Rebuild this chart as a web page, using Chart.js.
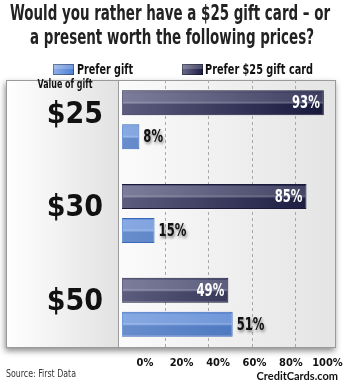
<!DOCTYPE html>
<html>
<head>
<meta charset="utf-8">
<script src="https://cdn.jsdelivr.net/npm/chart.js@4.4.1/dist/chart.umd.min.js"></script>
<style>
  html, body { margin: 0; padding: 0; background: #fff; }
  #wrap { width: 344px; height: 384px; }
</style>
</head>
<body>
<div id="wrap"><canvas id="giftChart" width="344" height="384"></canvas></div>
<script>
// ---------------------------------------- data ------------------------------------------------
const titleLines = ["Would you rather have a $25 gift card \u2013 or", "a present worth the following prices?"];
const categories = ["$25", "$30", "$50"];
const preferCard = [93, 85, 49];   // Prefer $25 gift card
const preferGift = [8, 15, 51];    // Prefer gift
const tickValues = [0, 20, 40, 60, 80, 100];
const gridValues = [20, 40, 60, 80];

const COND = '"DejaVu Sans Condensed", "DejaVu Sans", sans-serif';

// squeeze text sideways so the wide condensed face reads like a narrow one
function narrowText(ctx, text, x, y, k) {
    ctx.fillText(text, x, y, ctx.measureText(text).width * k);
}

// keep the axes from stealing side room for their end labels
function noSidePadding(s) {
    s.paddingLeft = 0;
    s.paddingRight = 0;
}

// -------------------------------- panel behind the bars ----------------------------------------
const panelBox = {
    id: 'panelBox',
    beforeDraw(chart) {
        const { ctx, chartArea: a } = chart;
        const left = 6;
        ctx.save();
        ctx.fillStyle = '#fff';
        ctx.fillRect(0, 0, chart.width, chart.height);

        // soft shadow under the box
        ctx.shadowColor = 'rgba(0,0,0,0.45)';
        ctx.shadowBlur = 6;
        ctx.shadowOffsetX = -1;
        ctx.shadowOffsetY = 3;
        ctx.fillStyle = '#f4f4f4';
        ctx.fillRect(left, a.top, a.right - left, a.bottom - a.top);
        ctx.shadowColor = 'transparent';

        let g = ctx.createLinearGradient(left, 0, a.left, 0);
        g.addColorStop(0, '#ffffff');
        g.addColorStop(1, '#e2e2e2');
        ctx.fillStyle = g;
        ctx.fillRect(left, a.top, a.left - left, a.bottom - a.top);

        g = ctx.createLinearGradient(a.left, 0, a.right, 0);
        g.addColorStop(0, '#fbfbfb');
        g.addColorStop(1, '#e4e4e4');
        ctx.fillStyle = g;
        ctx.fillRect(a.left, a.top, a.right - a.left, a.bottom - a.top);

        ctx.strokeStyle = '#9a9a9a';
        ctx.lineWidth = 1;
        ctx.strokeRect(left + 0.5, a.top + 0.5, a.right - left - 1, a.bottom - a.top - 1);

        ctx.fillStyle = '#111';
        ctx.font = 'bold 11.5px ' + COND;
        ctx.textAlign = 'center';
        ctx.textBaseline = 'middle';
        ctx.fillText('Value of gift', 65, a.top + 5, 55);
        ctx.restore();
    }
};

// ------------------------- title, legend, shine and value labels --------------------------------
function swatch(ctx, x, y, w, h, c1, c2) {
    const g = ctx.createLinearGradient(x, 0, x + w, 0);
    g.addColorStop(0, c1);
    g.addColorStop(1, c2);
    ctx.fillStyle = g;
    ctx.fillRect(x, y, w, h);
    ctx.fillStyle = 'rgba(255,255,255,0.2)';
    ctx.fillRect(x, y, w, h * 0.45);
    ctx.strokeStyle = 'rgba(0,0,0,0.35)';
    ctx.strokeRect(x + 0.5, y + 0.5, w - 1, h - 1);
}

const decorations = {
    id: 'decorations',
    afterDatasetsDraw(chart) {
        const ctx = chart.ctx;
        ctx.save();
        chart.data.datasets.forEach((ds, di) => {
            chart.getDatasetMeta(di).data.forEach((bar, i) => {
                const top = bar.y - bar.height / 2;
                const h = bar.height;
                const w = bar.x - bar.base - 2;
                // glossy band over the top half
                ctx.fillStyle = 'rgba(255,255,255,0.16)';
                ctx.fillRect(bar.base + 1, top + 2, w, h * 0.42);
                ctx.fillStyle = 'rgba(255,255,255,0.2)';
                ctx.fillRect(bar.base + 1, top + h * 0.42 + 1, w, 2);
                ctx.fillStyle = 'rgba(0,0,0,0.08)';
                ctx.fillRect(bar.base + 1, top + h * 0.55, w, h * 0.45 - 1);

                const txt = ds.data[i].x + '%';
                ctx.font = 'bold 17px ' + COND;
                ctx.textBaseline = 'middle';
                if (ds.inside) {
                    ctx.fillStyle = '#fff';
                    ctx.textAlign = 'right';
                    narrowText(ctx, txt, bar.x - 4, bar.y + 1, 0.76);
                } else {
                    ctx.shadowColor = 'rgba(0,0,0,0.45)';
                    ctx.shadowBlur = 3;
                    ctx.shadowOffsetX = 1;
                    ctx.shadowOffsetY = 2;
                    ctx.fillStyle = '#111';
                    ctx.textAlign = 'left';
                    narrowText(ctx, txt, bar.x + 4, bar.y + 1, 0.76);
                    ctx.shadowColor = 'transparent';
                }
            });
        });
        ctx.restore();
    },
    afterDraw(chart) {
        const ctx = chart.ctx;
        ctx.save();
        // title
        ctx.fillStyle = '#222';
        ctx.font = 'bold 21px ' + COND;
        ctx.textAlign = 'center';
        ctx.textBaseline = 'middle';
        ctx.fillText(titleLines[0], 170, 15, 320);
        ctx.fillText(titleLines[1], 172, 39, 284);

        // legend
        swatch(ctx, 53, 64, 21, 11, '#8fb0ea', '#4d7fd2');
        swatch(ctx, 182, 64, 21, 11, '#6a6a8c', '#1b1b42');
        ctx.fillStyle = '#111';
        ctx.font = 'bold 14px ' + COND;
        ctx.textAlign = 'left';
        ctx.fillText(chart.data.datasets[1].label, 77, 70, 56);
        ctx.fillText(chart.data.datasets[0].label, 205, 70, 108);

        // footer
        ctx.fillStyle = '#333';
        ctx.font = '11px ' + COND;
        ctx.fillText('Source: First Data', 6, 374, 70);
        ctx.fillStyle = '#111';
        ctx.font = 'bold 11px Lato, sans-serif';
        ctx.textAlign = 'right';
        ctx.fillText('CreditCards.com', 338, 376, 84);
        ctx.restore();
    }
};

function barFill(c1, c2) {
    return function (context) {
        const area = context.chart.chartArea;
        if (!area) return c2;
        const g = context.chart.ctx.createLinearGradient(area.left, 0, area.right, 0);
        g.addColorStop(0, c1);
        g.addColorStop(0.95, c2);
        return g;
    };
}

// ------------------------------------------ chart -----------------------------------------------
new Chart("giftChart", {
    type: "bar",
    data: {
        datasets: [{
            label: "Prefer $25 gift card",
            inside: true,
            data: preferCard.map((v, i) => ({ x: v, y: i })),
            backgroundColor: barFill('#66668a', '#1a1a42'),
            borderColor: '#1a1a38',
            borderWidth: 1
        }, {
            label: "Prefer gift",
            data: preferGift.map((v, i) => ({ x: v, y: i })),
            backgroundColor: barFill('#729ade', '#3f72c8'),
            borderColor: '#3a68b8',
            borderWidth: 1
        }]
    },
    options: {
        indexAxis: 'y',
        responsive: false,
        animation: false,
        categoryPercentage: 0.725,
        barPercentage: 0.735,
        layout: { autoPadding: false, padding: { left: 6, right: 8, top: 80, bottom: 0 } },
        plugins: {
            legend: { display: false },
            tooltip: { enabled: false },
            title: { display: false }
        },
        scales: {
            y: {
                type: 'linear',
                reverse: true,
                offset: false,
                min: -0.424,
                max: 2.435,
                afterBuildTicks: s => { s.ticks = categories.map((c, i) => ({ value: i })); },
                afterFit: s => { s.width = 112; s.paddingTop = 0; s.paddingBottom = 0; },
                ticks: {
                    callback: v => categories[v],
                    color: '#111',
                    padding: 15,
                    labelOffset: -5,
                    font: { family: COND, size: 30, weight: 'bold' }
                },
                grid: { display: false, drawTicks: false, offset: false },
                border: { display: true, color: '#9a9a9a' }
            },
            x: {
                type: 'linear',
                min: -1.84,
                max: 98.6,
                afterBuildTicks: s => { s.ticks = gridValues.map(v => ({ value: v })); },
                afterFit: s => { s.height = 0; noSidePadding(s); },
                ticks: { display: false },
                grid: { color: '#a8a8a8', drawTicks: false },
                border: { display: false, dash: [3, 3] }
            },
            x2: {
                type: 'linear',
                position: 'bottom',
                min: -14.8,
                max: 104.7,
                afterBuildTicks: s => { s.ticks = tickValues.map(v => ({ value: v })); },
                afterFit: s => { s.height = 36; noSidePadding(s); },
                ticks: {
                    callback: v => v + '%',
                    color: '#111',
                    padding: 9,
                    maxRotation: 0,
                    autoSkip: false,
                    font: { family: COND, size: 11, weight: 'bold' }
                },
                grid: { display: false, drawTicks: false },
                border: { display: false }
            }
        }
    },
    plugins: [panelBox, decorations]
});
</script>
</body>
</html>
